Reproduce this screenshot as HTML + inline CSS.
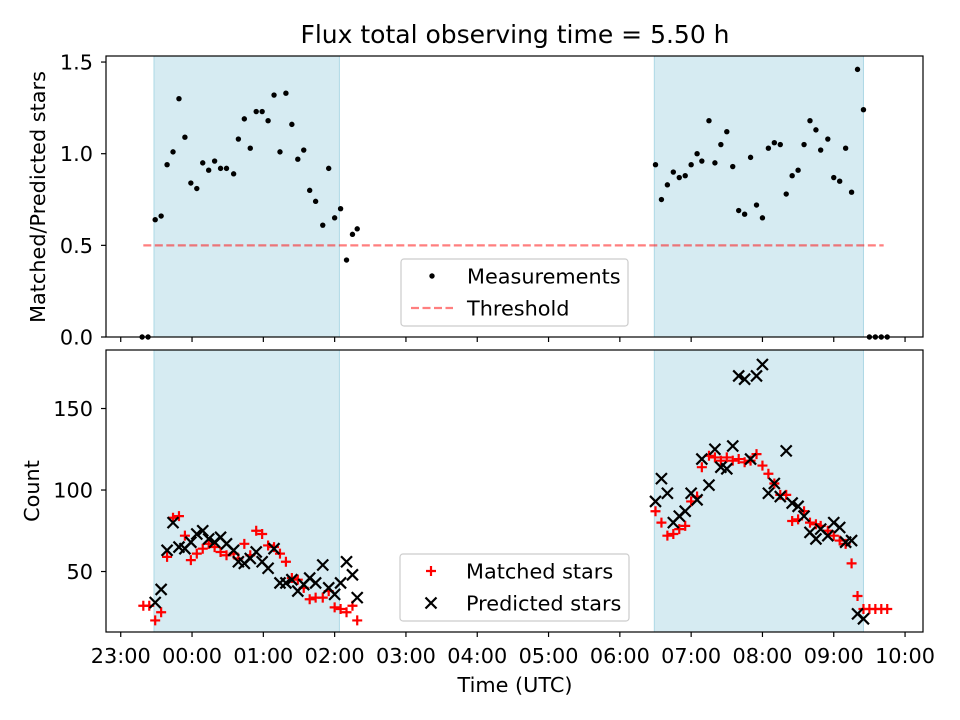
<!DOCTYPE html>
<html><head><meta charset="utf-8"><style>
body{margin:0;background:#fff}
svg{display:block;font-family:"DejaVu Sans","Liberation Sans",sans-serif}
</style></head><body>
<svg id="chart" width="960" height="720" viewBox="0 0 960 720"></svg>
<script>
// minutes since 00:00 UTC (negative = previous day)
const topTimes1 = [-42,-37,-31,-26,-21,-16,-11,-6,-1,4,9,14,19,24,29,35,39,44,49,54,59,64,69,74,79,84,89,94,99,104,110,115,120,125,130,135,139];
const ratio1 = [0,0,0.64,0.66,0.94,1.01,1.30,1.09,0.84,0.81,0.95,0.91,0.96,0.92,0.92,0.89,1.08,1.19,1.03,1.23,1.23,1.18,1.32,1.01,1.33,1.16,0.97,1.02,0.80,0.74,0.61,0.92,0.65,0.70,0.42,0.56,0.59];
const topTimes2 = [390,395,400,405,410,415,420,425,429,435,440,445,450,455,460,465,470,475,480,485,490,495,500,505,510,515,520,525,529,535,540,545,550,555,560,565,570,575,580,585];
const ratio2 = [0.94,0.75,0.83,0.90,0.87,0.88,0.94,1.00,0.96,1.18,0.95,1.05,1.12,0.93,0.69,0.67,0.98,0.72,0.65,1.03,1.06,1.05,0.78,0.88,0.91,1.05,1.18,1.13,1.02,1.08,0.87,0.85,1.03,0.79,1.46,1.24,0,0,0,0];
const matchedTimes = [-41,-36,-31,-26,-21,-16,-11,-6,-1,4,9,14,19,24,29,35,39,44,49,54,59,64,69,74,79,84,89,94,99,104,110,115,120,125,130,135,139,
  390,395,400,405,410,415,420,425,429,435,440,445,450,455,460,465,470,475,480,485,490,495,500,505,510,515,520,525,529,535,540,545,550,555,560,565,570,575,580,585];
const matched = [29,29,20,25,59,83,84,72,57,61,64,67,65,62,60,61,58,67,60,75,73,66,65,61,56,46,45,40,33,34,34,38,28,27,25,29,20,
  87,80,72,73,76,78,93,96,114,121,120,118,120,118,119,117,118,122,115,110,104,97,97,81,82,87,80,79,78,75,72,69,67,55,35,27,27,27,27,27];
const predTimes = [-31,-26,-21,-16,-11,-6,-1,4,9,14,19,24,29,35,39,44,49,54,59,64,69,74,79,84,89,94,99,104,110,115,120,125,130,135,139,
  390,395,400,405,410,415,420,425,429,435,440,445,450,455,460,465,470,475,480,485,490,495,500,505,510,515,520,525,529,535,540,545,550,555,560,565];
const predicted = [31,39,63,80,65,64,68,73,75,70,68,71,67,63,56,55,58,62,56,52,64,43,43,45,38,42,46,43,54,40,36,43,56,48,34,
  93,107,98,80,84,87,98,94,119,103,125,114,113,127,170,168,119,170,177,98,104,96,124,92,90,84,74,70,76,72,80,77,68,69,24,21];
const shadeStart = [-32,389];
const shadeEnd = [124,565];
const threshold = 0.5, thrFrom = -41, thrTo = 582;
const xTickLabels = ["23:00","00:00","01:00","02:00","03:00","04:00","05:00","06:00","07:00","08:00","09:00","10:00"];
const xTickMins = [-60,0,60,120,180,240,300,360,420,480,540,600];
const topYTicks = [0,0.5,1.0,1.5];
const botYTicks = [50,100,150];

const NS="http://www.w3.org/2000/svg";
const svg=document.getElementById('chart');
function mk(tag,attrs,parent){const e=document.createElementNS(NS,tag);for(const k in attrs)e.setAttribute(k,attrs[k]);(parent||svg).appendChild(e);return e;}
const FS=20.8;
const L=106,R=923;
const T1=56,B1=337,T2=350,B2=632;
const xMin=-72.4,xMax=615.1;
const X=m=>L+(m-xMin)/(xMax-xMin)*(R-L);
const Y1=v=>B1-(v-0)/(1.533-0)*(B1-T1);
const Y2=v=>B2-(v-12.9)/(185.9-12.9)*(B2-T2);

let t=mk('text',{x:515,y:43,'text-anchor':'middle','font-size':25,fill:'#000'});
t.textContent='Flux total observing time = 5.50 h';



function panel(T,B,Y,yticks,fmt,name){
  const g=mk('g',{});
  
  
  for(let i=0;i<shadeStart.length;i++){
    const r=mk('rect',{x:X(shadeStart[i]),y:T,width:X(shadeEnd[i])-X(shadeStart[i]),height:B-T,fill:'#add8e6','fill-opacity':0.5,stroke:'#add8e6','stroke-width':1},g);
    
    
  }
  yticks.forEach(v=>{
    const y=Y(v);
    mk('line',{x1:L-5,x2:L,y1:y,y2:y,stroke:'#000','stroke-width':1.2},g);
    const tx=mk('text',{x:L-13,y:y+7.5,'text-anchor':'end','font-size':FS},g);
    tx.textContent=fmt(v);
    
    
  });
  xTickMins.forEach(m=>{mk('line',{x1:X(m),x2:X(m),y1:B,y2:B+5,stroke:'#000','stroke-width':1.2},g);});
  return g;
}
const g1=panel(T1,B1,Y1,topYTicks,v=>v.toFixed(1),'top-panel');
const g2=panel(T2,B2,Y2,botYTicks,v=>String(v),'bottom-panel');

const th=mk('line',{x1:X(thrFrom),x2:X(thrTo),y1:Y1(threshold),y2:Y1(threshold),stroke:'#ff0000','stroke-opacity':0.5,'stroke-width':2.2,'stroke-dasharray':'8,3.5'},g1);


[[topTimes1,ratio1],[topTimes2,ratio2]].forEach(([ts,vs])=>{
  ts.forEach((m,i)=>{
    const c=mk('circle',{cx:X(m),cy:Y1(vs[i]),r:2.7,fill:'#000'},g1);
    
    
  });
});
matchedTimes.forEach((m,i)=>{
  const x=X(m),y=Y2(matched[i]);
  const p=mk('path',{d:`M${x-5},${y}H${x+5}M${x},${y-5}V${y+5}`,stroke:'#ff0000','stroke-width':2.2,fill:'none'},g2);
  
  
});
predTimes.forEach((m,i)=>{
  const x=X(m),y=Y2(predicted[i]);
  const p=mk('path',{d:`M${x-5.5},${y-5.5}L${x+5.5},${y+5.5}M${x-5.5},${y+5.5}L${x+5.5},${y-5.5}`,stroke:'#000','stroke-width':2.2,fill:'none'},g2);
  
  
});
[[T1,B1,'top-axes-frame'],[T2,B2,'bottom-axes-frame']].forEach(([T,B,n])=>{
  const r=mk('rect',{x:L,y:T,width:R-L,height:B-T,fill:'none',stroke:'#000','stroke-width':1.2});
  
  
});
xTickMins.forEach((m,i)=>{
  const tx=mk('text',{x:X(m),y:663,'text-anchor':'middle','font-size':FS});
  tx.textContent=xTickLabels[i];
  
  
});
let a=mk('text',{x:515,y:692,'text-anchor':'middle','font-size':FS});a.textContent='Time (UTC)';

a=mk('text',{x:0,y:0,'text-anchor':'middle','font-size':FS,transform:'translate(45,197) rotate(-90)'});a.textContent='Matched/Predicted stars';

a=mk('text',{x:0,y:0,'text-anchor':'middle','font-size':FS,transform:'translate(39,491) rotate(-90)'});a.textContent='Count';


function legend(x,y,w,h,items,name){
  const g=mk('g',{});
  
  
  mk('rect',{x:x,y:y,width:w,height:h,rx:3,fill:'#fff','fill-opacity':0.8,stroke:'#ccc','stroke-width':1.2},g);
  items.forEach((it,i)=>{
    const cy=y+17+i*32, cx=x+31;
    if(it.t==='dot') mk('circle',{cx:cx,cy:cy,r:2.7,fill:'#000'},g);
    if(it.t==='dash') mk('line',{x1:cx-21,x2:cx+21,y1:cy,y2:cy,stroke:'#ff0000','stroke-opacity':0.5,'stroke-width':2.2,'stroke-dasharray':'8,3.5'},g);
    if(it.t==='plus') mk('path',{d:`M${cx-5},${cy}H${cx+5}M${cx},${cy-5}V${cy+5}`,stroke:'#ff0000','stroke-width':2.2},g);
    if(it.t==='x') mk('path',{d:`M${cx-5.5},${cy-5.5}L${cx+5.5},${cy+5.5}M${cx-5.5},${cy+5.5}L${cx+5.5},${cy-5.5}`,stroke:'#000','stroke-width':2.2},g);
    const tx=mk('text',{x:x+66,y:cy+7.5,'font-size':FS},g);
    tx.textContent=it.label;
    
    
  });
}
legend(401,259,227,67,[{t:'dot',label:'Measurements'},{t:'dash',label:'Threshold'}],'top-legend');
legend(400,554,229,67,[{t:'plus',label:'Matched stars'},{t:'x',label:'Predicted stars'}],'bottom-legend');
</script>
</body></html>
